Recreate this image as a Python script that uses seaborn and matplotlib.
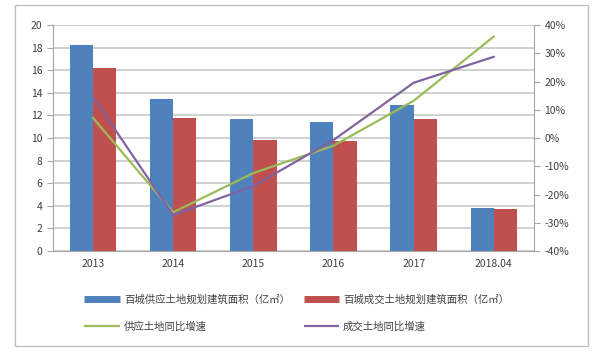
import matplotlib
matplotlib.use("Agg")
import matplotlib.pyplot as plt
import seaborn as sns
import pandas as pd
import numpy as np
from matplotlib.patches import Rectangle
from matplotlib.lines import Line2D

# data
years = ["2013", "2014", "2015", "2016", "2017", "2018.04"]
supply_area = [18.2, 13.5, 11.7, 11.4, 12.9, 3.85]
deal_area = [16.2, 11.8, 9.8, 9.7, 11.7, 3.7]
supply_growth = [7.2, -26.3, -12.4, -2.7, 13.2, 36.0]
deal_growth = [14.6, -27.3, -17.0, -0.7, 19.6, 28.8]

supply_name = "百城供应土地规划建筑面积（亿㎡）"
deal_name = "百城成交土地规划建筑面积（亿㎡）"
supply_g_name = "供应土地同比增速"
deal_g_name = "成交土地同比增速"

blue = "#4F81BD"
red = "#C0504D"
green = "#9BBB59"
purple = "#8064A2"
grid_c = "#C8C8C8"
axis_c = "#A6A6A6"

sns.set_style("white")
plt.rcParams["font.family"] = ["Noto Sans CJK SC", "DejaVu Sans"]

df = pd.DataFrame({
    "year": years * 2,
    "area": supply_area + deal_area,
    "series": [supply_name] * 6 + [deal_name] * 6,
})

fig = plt.figure(figsize=(6, 3.54), dpi=100)
ax = fig.add_axes([0.088, 0.291, 0.802, 0.638])

sns.barplot(data=df, x="year", y="area", hue="series", order=years,
            palette=[blue, red], width=0.58, saturation=1, ax=ax,
            legend=False, linewidth=0, edgecolor="none")
ax.set_ylim(0, 20)
ax.set_yticks(np.arange(0, 21, 2))
ax.set_xlim(-0.5, 5.5)
ax.set_xlabel("")
ax.set_ylabel("")
ax.set_axisbelow(True)
ax.yaxis.grid(True, color=grid_c, lw=1.2)

ax2 = ax.twinx()
pos = np.arange(len(years))
sns.lineplot(x=pos, y=supply_growth, color=green, lw=1.6, ax=ax2)
sns.lineplot(x=pos, y=deal_growth, color=purple, lw=1.6, ax=ax2)
ax2.set_ylim(-40, 40)
ax2.set_yticks(np.arange(-40, 41, 10))
ax2.set_yticklabels([f"{v}%" for v in range(-40, 41, 10)])
ax.set_xlim(-0.5, 5.5)

for a in (ax, ax2):
    for s in a.spines.values():
        s.set_visible(False)
ax.spines["left"].set_visible(True)
ax.spines["left"].set_color(axis_c)
ax.spines["bottom"].set_visible(True)
ax.spines["bottom"].set_color(axis_c)
ax2.spines["right"].set_visible(True)
ax2.spines["right"].set_color(axis_c)

ax.tick_params(axis="y", length=4, color=axis_c, labelsize=7.5, labelcolor="#404040")
ax2.tick_params(axis="y", length=4, color=axis_c, labelsize=7.5, labelcolor="#404040")
ax.set_xticks(pos)
ax.set_xticklabels(years)
ax.tick_params(axis="x", which="major", length=0, labelsize=7.5, labelcolor="#404040", pad=6)
ax.set_xticks(np.arange(-0.5, 6, 1), minor=True)
ax.tick_params(axis="x", which="minor", length=4, color=axis_c)

handles = [
    Line2D([], [], color=blue, lw=5, solid_capstyle="butt"),
    Line2D([], [], color=green, lw=1.6, solid_capstyle="butt"),
    Line2D([], [], color=red, lw=5, solid_capstyle="butt"),
    Line2D([], [], color=purple, lw=1.6, solid_capstyle="butt"),
]
labels = [supply_name, supply_g_name, deal_name, deal_g_name]
fig.legend(handles, labels, ncol=2, loc="upper left",
           bbox_to_anchor=(0.125, 0.195), frameon=False, fontsize=7.5,
           handlelength=3.4, handletextpad=0.4, columnspacing=1.3,
           labelspacing=1.55, labelcolor="#404040")

fig.patches.append(Rectangle((0.025, 0.023), 0.955, 0.963, transform=fig.transFigure,
                             fill=False, edgecolor="#BFBFBF", lw=1))

fig.savefig("out.png", dpi=100)
